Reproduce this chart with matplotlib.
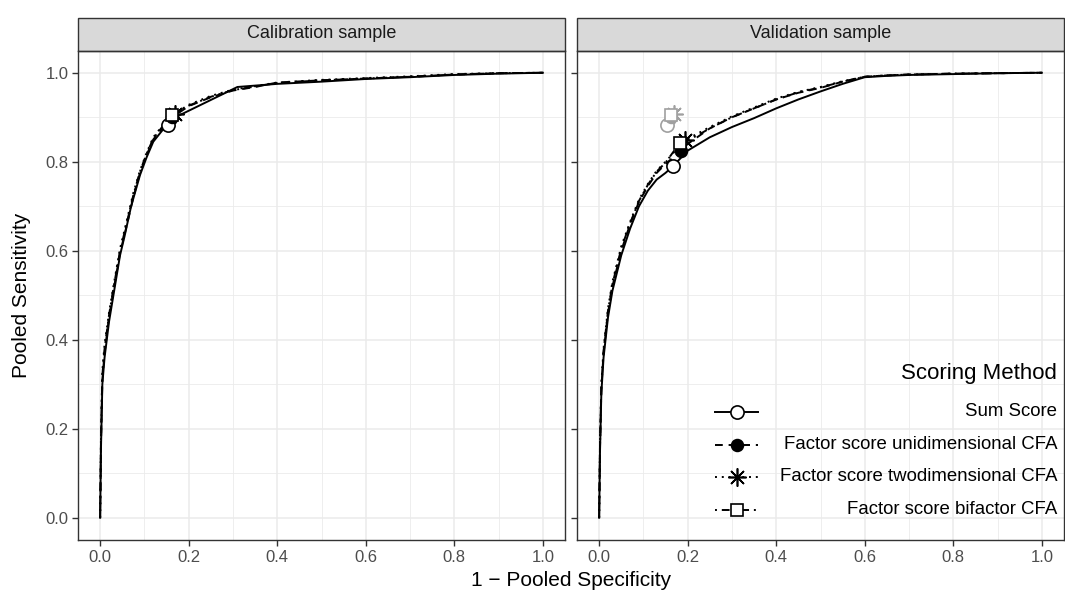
import matplotlib
matplotlib.use("Agg")
import matplotlib.pyplot as plt
from matplotlib.lines import Line2D
from matplotlib.patches import Rectangle

plt.rcParams['font.family'] = ['Liberation Sans', 'DejaVu Sans']

# ---------------- data ----------------
panels = ["Calibration sample", "Validation sample"]
methods = ["Sum Score", "Factor score unidimensional CFA",
           "Factor score twodimensional CFA", "Factor score bifactor CFA"]

# Calibration sample ROC curves
cal_sum_x = [0, 0.002, 0.005, 0.01, 0.02, 0.03, 0.045, 0.055, 0.07, 0.09, 0.105, 0.12, 0.14, 0.153, 0.17, 0.31, 0.4, 0.5, 0.6, 0.7, 0.8, 0.9, 1.0]
cal_sum_y = [0, 0.16, 0.30, 0.36, 0.44, 0.50, 0.59, 0.632, 0.70, 0.77, 0.81, 0.845, 0.87, 0.882, 0.90, 0.968, 0.975, 0.980, 0.986, 0.990, 0.995, 0.998, 1.0]
cal_uni_x = [0, 0.002, 0.005, 0.01, 0.02, 0.03, 0.045, 0.056, 0.075, 0.09, 0.105, 0.12, 0.14, 0.163, 0.2, 0.25, 0.3, 0.35, 0.4, 0.5, 0.6, 0.7, 0.8, 0.9, 1.0]
cal_uni_y = [0, 0.17, 0.31, 0.37, 0.45, 0.51, 0.595, 0.64, 0.72, 0.775, 0.815, 0.85, 0.875, 0.90, 0.925, 0.945, 0.96, 0.968, 0.978, 0.983, 0.987, 0.991, 0.996, 0.999, 1.0]
cal_two_x = [0, 0.002, 0.005, 0.01, 0.02, 0.03, 0.045, 0.056, 0.075, 0.09, 0.105, 0.12, 0.14, 0.168, 0.2, 0.25, 0.3, 0.35, 0.4, 0.5, 0.6, 0.7, 0.8, 0.9, 1.0]
cal_two_y = [0, 0.19, 0.33, 0.39, 0.46, 0.52, 0.605, 0.65, 0.73, 0.78, 0.82, 0.855, 0.88, 0.908, 0.928, 0.948, 0.962, 0.97, 0.978, 0.984, 0.988, 0.992, 0.997, 0.999, 1.0]
cal_bif_x = [0, 0.002, 0.005, 0.01, 0.02, 0.03, 0.045, 0.056, 0.075, 0.09, 0.105, 0.12, 0.14, 0.162, 0.2, 0.25, 0.3, 0.35, 0.4, 0.5, 0.6, 0.7, 0.8, 0.9, 1.0]
cal_bif_y = [0, 0.18, 0.32, 0.38, 0.455, 0.515, 0.60, 0.645, 0.725, 0.778, 0.818, 0.852, 0.878, 0.905, 0.926, 0.946, 0.961, 0.969, 0.977, 0.983, 0.987, 0.991, 0.996, 0.999, 1.0]

# Validation sample ROC curves
val_sum_x = [0, 0.002, 0.005, 0.01, 0.02, 0.03, 0.05, 0.07, 0.09, 0.11, 0.13, 0.15, 0.167, 0.2, 0.25, 0.3, 0.35, 0.4, 0.45, 0.5, 0.55, 0.6, 0.65, 0.7, 0.8, 0.9, 1.0]
val_sum_y = [0, 0.15, 0.28, 0.36, 0.45, 0.51, 0.59, 0.65, 0.70, 0.735, 0.76, 0.775, 0.79, 0.825, 0.855, 0.878, 0.898, 0.92, 0.94, 0.958, 0.975, 0.99, 0.993, 0.995, 0.997, 0.999, 1.0]
val_uni_x = [0, 0.002, 0.005, 0.01, 0.02, 0.03, 0.05, 0.07, 0.09, 0.11, 0.13, 0.15, 0.185, 0.2, 0.25, 0.3, 0.35, 0.4, 0.45, 0.5, 0.55, 0.6, 0.65, 0.7, 0.8, 0.9, 1.0]
val_uni_y = [0, 0.16, 0.29, 0.37, 0.46, 0.52, 0.60, 0.66, 0.71, 0.745, 0.775, 0.795, 0.825, 0.84, 0.875, 0.90, 0.92, 0.94, 0.955, 0.966, 0.98, 0.991, 0.994, 0.996, 0.998, 0.999, 1.0]
val_two_x = [0, 0.002, 0.005, 0.01, 0.02, 0.03, 0.05, 0.07, 0.09, 0.11, 0.13, 0.15, 0.193, 0.22, 0.25, 0.3, 0.35, 0.4, 0.45, 0.5, 0.55, 0.6, 0.65, 0.7, 0.8, 0.9, 1.0]
val_two_y = [0, 0.17, 0.30, 0.38, 0.47, 0.53, 0.61, 0.665, 0.715, 0.75, 0.78, 0.80, 0.848, 0.862, 0.878, 0.902, 0.922, 0.942, 0.957, 0.968, 0.981, 0.991, 0.994, 0.996, 0.998, 0.999, 1.0]
val_bif_x = [0, 0.002, 0.005, 0.01, 0.02, 0.03, 0.05, 0.07, 0.09, 0.11, 0.13, 0.15, 0.182, 0.22, 0.25, 0.3, 0.35, 0.4, 0.45, 0.5, 0.55, 0.6, 0.65, 0.7, 0.8, 0.9, 1.0]
val_bif_y = [0, 0.165, 0.295, 0.375, 0.465, 0.525, 0.605, 0.662, 0.712, 0.748, 0.778, 0.798, 0.842, 0.858, 0.875, 0.90, 0.92, 0.94, 0.956, 0.967, 0.98, 0.991, 0.994, 0.996, 0.998, 0.999, 1.0]

# Optimal cut-points (1 - specificity, sensitivity) per method
cal_cut_x = [0.153, 0.163, 0.168, 0.162]
cal_cut_y = [0.882, 0.900, 0.908, 0.905]
val_cut_x = [0.167, 0.185, 0.193, 0.182]
val_cut_y = [0.790, 0.825, 0.848, 0.842]

x_ticks = [0.0, 0.2, 0.4, 0.6, 0.8, 1.0]
y_ticks = [0.0, 0.2, 0.4, 0.6, 0.8, 1.0]

# ---------------- style ----------------
LW = 1.4
styles = [
    dict(linestyle='-'),
    dict(dashes=(4, 3)),
    dict(dashes=(1, 2.5)),
    dict(dashes=(1, 2.5, 4, 2.5)),
]
markers = [
    dict(marker='o', markersize=9.5, markerfacecolor='white'),
    dict(marker='o', markersize=8.5, markerfacecolor='black'),
    dict(marker=(8, 2, 0), markersize=13),
    dict(marker='s', markersize=8.5, markerfacecolor='white'),
]

W, H = 1065, 594
fig = plt.figure(figsize=(W / 100, H / 100), dpi=100)
pan_w = 487
pan_h = 489.5
pan_bottom = 54
lefts = [78, 577]

curves = [
    [(cal_sum_x, cal_sum_y), (cal_uni_x, cal_uni_y), (cal_two_x, cal_two_y), (cal_bif_x, cal_bif_y)],
    [(val_sum_x, val_sum_y), (val_uni_x, val_uni_y), (val_two_x, val_two_y), (val_bif_x, val_bif_y)],
]
cuts = [(cal_cut_x, cal_cut_y), (val_cut_x, val_cut_y)]

axes = []
for p, left in enumerate(lefts):
    ax = fig.add_axes([left / W, pan_bottom / H, pan_w / W, pan_h / H])
    axes.append(ax)
    ax.set_xlim(-0.05, 1.05)
    ax.set_ylim(-0.05, 1.05)
    ax.set_xticks(x_ticks)
    ax.set_xticklabels([f"{v:.1f}" for v in x_ticks])
    ax.set_yticks(y_ticks)
    if p == 0:
        ax.set_yticklabels([f"{v:.1f}" for v in y_ticks])
    else:
        ax.set_yticklabels([])
        ax.tick_params(axis='y', length=0)
    ax.set_xticks([0.1, 0.3, 0.5, 0.7, 0.9], minor=True)
    ax.set_yticks([0.1, 0.3, 0.5, 0.7, 0.9], minor=True)
    ax.tick_params(which='minor', length=0)
    ax.tick_params(which='major', length=4, width=1.0, color='#333333',
                   labelsize=12, labelcolor='#4D4D4D', pad=3)
    ax.grid(which='major', color='#EBEBEB', linewidth=1.1)
    ax.grid(which='minor', color='#EBEBEB', linewidth=0.6)
    ax.set_axisbelow(True)
    for s in ax.spines.values():
        s.set_color('#333333')
        s.set_linewidth(1.0)

    for i, (xs, ys) in enumerate(curves[p]):
        ax.plot(xs, ys, color='black', linewidth=LW, zorder=3, **styles[i])

    if p == 1:
        gx, gy = cuts[0]
        for i in range(4):
            mk = dict(markers[i])
            if mk.get('markerfacecolor') == 'black':
                mk['markerfacecolor'] = '#A0A0A0'
            ax.plot([gx[i]], [gy[i]], linestyle='none', color='#A0A0A0',
                    markeredgecolor='#A0A0A0', markeredgewidth=1.2, zorder=4, **mk)
    cx, cy = cuts[p]
    for i in range(4):
        ax.plot([cx[i]], [cy[i]], linestyle='none', color='black',
                markeredgecolor='black', markeredgewidth=1.2, zorder=5, **markers[i])

    # strip
    sh = 33 / pan_h
    ax.add_patch(Rectangle((0, 1), 1, sh, transform=ax.transAxes, clip_on=False,
                           facecolor='#D9D9D9', edgecolor='#333333', linewidth=1.0))
    ax.text(0.5, 1 + sh / 2, panels[p], transform=ax.transAxes, ha='center',
            va='center', fontsize=13, color='#1A1A1A')

# legend drawn inside the validation panel
ax = axes[1]
def ax_x(px):
    return (px - lefts[1]) / pan_w
def ax_y(py):
    return (pan_bottom + pan_h - py) / pan_h

ax.text(ax_x(1057), ax_y(377), "Scoring Method", transform=ax.transAxes,
        ha='right', va='center', fontsize=16, color='black')
rows = [415, 448, 480, 513]
for i, lab in enumerate(methods):
    yy = ax_y(rows[i])
    ax.add_line(Line2D([ax_x(715), ax_x(758)], [yy, yy], transform=ax.transAxes,
                       color='black', linewidth=LW, **styles[i]))
    ax.add_line(Line2D([ax_x(736.5)], [yy], transform=ax.transAxes, linestyle='none',
                       color='black', markeredgecolor='black', markeredgewidth=1.2,
                       **markers[i]))
    ax.text(ax_x(1057), yy, lab, transform=ax.transAxes, ha='right', va='center',
            fontsize=13.4, color='black')

fig.text((lefts[0] + lefts[1] + pan_w) / 2 / W, 14 / H, "1 \u2212 Pooled Specificity",
         ha='center', va='center', fontsize=15, color='black')
fig.text(22 / W, (pan_bottom + pan_h / 2) / H, "Pooled Sensitivity", rotation=90,
         ha='center', va='center', fontsize=15, color='black')

fig.savefig("out.png", dpi=100)
